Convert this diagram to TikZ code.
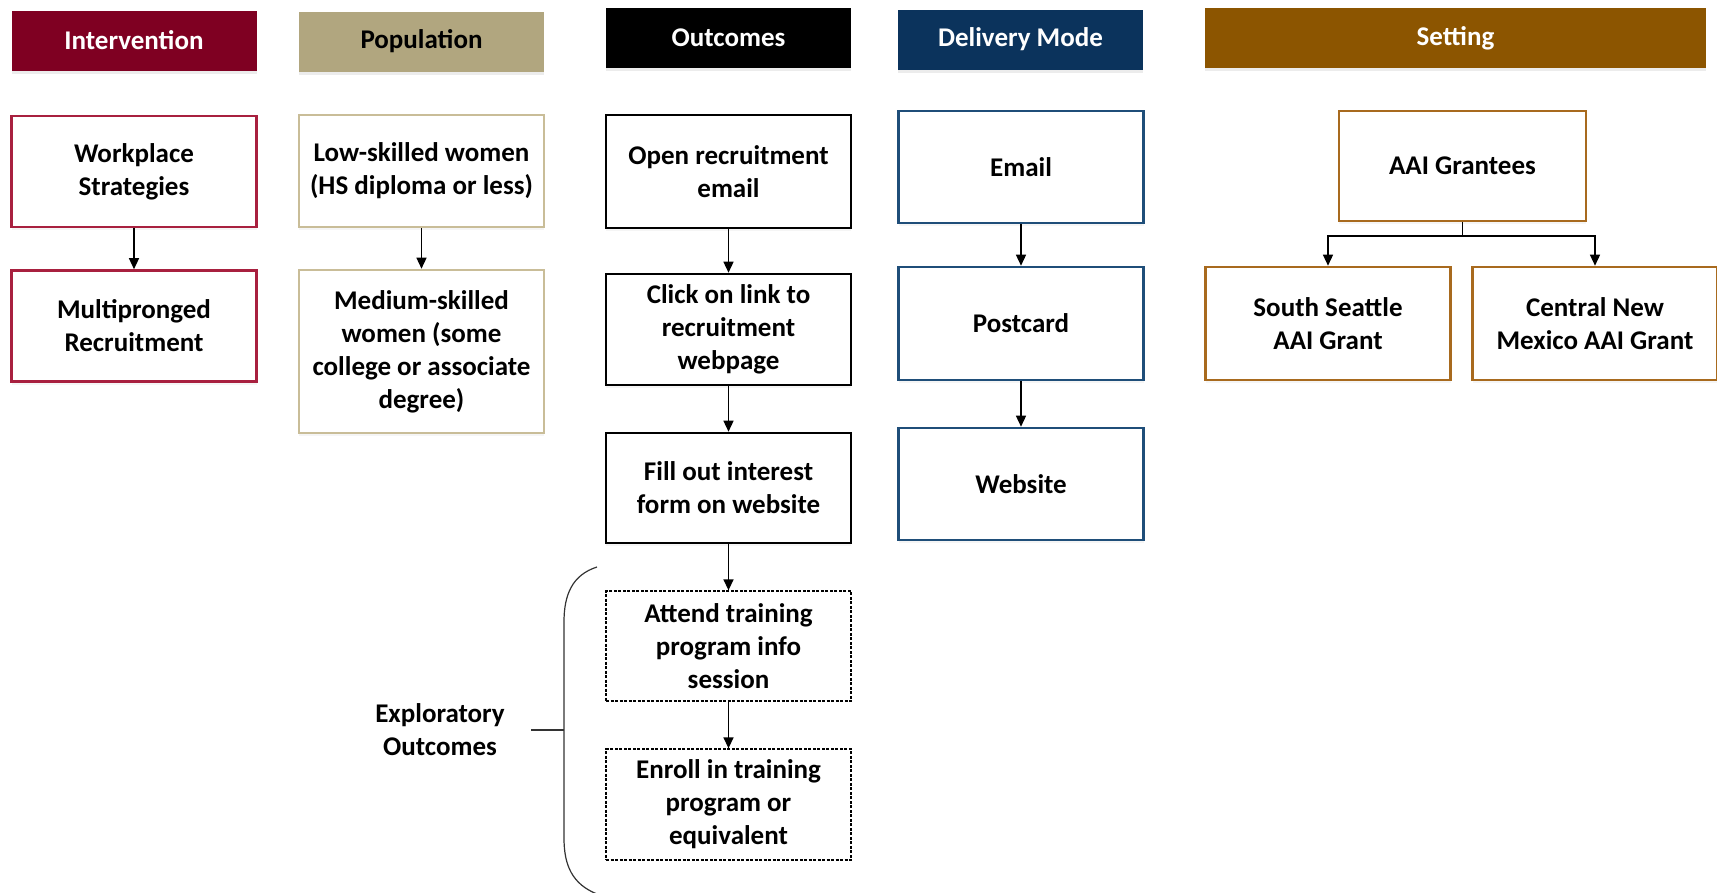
\documentclass[tikz,border=0pt]{standalone}
\usepackage{fontspec}
\setmainfont{Carlito}
\usetikzlibrary{arrows.meta,shadows}
\definecolor{cIntH}{HTML}{7F0022}
\definecolor{cIntB}{HTML}{A8203F}
\definecolor{cPopH}{HTML}{B1A67F}
\definecolor{cPopB}{HTML}{C9BD98}
\definecolor{cDelH}{HTML}{0B335C}
\definecolor{cDelB}{HTML}{1F4E79}
\definecolor{cSetH}{HTML}{8C5500}
\definecolor{cSetB}{HTML}{A86A1E}
\begin{document}
\begin{tikzpicture}[x=1pt,y=-1pt,
  every node/.style={font=\fontsize{27}{33}\selectfont\bfseries, align=center, inner sep=0pt},
  hdr/.style={minimum width=245pt, minimum height=60pt, text=white,
     drop shadow={shadow xshift=0pt, shadow yshift=-3pt, opacity=0.15, fill=gray}},
  box/.style={draw, line width=2.6pt, fill=white, minimum width=245pt, minimum height=111pt,
     drop shadow={shadow xshift=0pt, shadow yshift=-3pt, opacity=0.08, fill=gray}},
  dbox/.style={draw, line width=1.3pt, dash pattern=on 3pt off 1.5pt, fill=white, minimum width=245pt, minimum height=110pt},
  arr/.style={draw, line width=1.4pt, -{Triangle[width=10pt,length=11pt]}},
  ln/.style={draw, line width=1.4pt}
]
\useasboundingbox (0,0) rectangle (1717,892);
% headers
\node[hdr, fill=cIntH] (hInt) at (134,40.5) {Intervention};
\node[hdr, fill=cPopH, text=black] (hPop) at (421.5,41.5) {Population};
\node[hdr, fill=black] (hOut) at (728.5,38) {Outcomes};
\node[hdr, fill=cDelH] (hDel) at (1020.5,39.5) {Delivery Mode};
\node[hdr, fill=cSetH, minimum width=501pt] (hSet) at (1455.5,38) {Setting};
% intervention
\node[box, draw=cIntB] (wp) at (134,171.5) {Workplace\\Strategies};
\node[box, draw=cIntB] (mp) at (134,326) {Multipronged\\Recruitment};
% population
\node[box, draw=cPopB, minimum height=112pt] (low) at (421.5,171) {Low-skilled women\\(HS diploma or less)};
\node[box, draw=cPopB, minimum height=163pt] (med) at (421.5,351.5) {Medium-skilled\\women (some\\college or associate\\degree)};
% outcomes
\node[box, draw=black, minimum height=113pt] (open) at (728.5,171.5) {Open recruitment\\email};
\node[box, draw=black] (click) at (728.5,329.5) {Click on link to\\recruitment\\webpage};
\node[box, draw=black, minimum height=110pt] (fill) at (728.5,488) {Fill out interest\\form on website};
\node[dbox] (attend) at (728.5,646) {Attend training\\program info\\session};
\node[dbox, minimum height=111pt] (enroll) at (728.5,804.5) {Enroll in training\\program or\\equivalent};
% delivery
\node[box, draw=cDelB, minimum height=112pt] (email) at (1021,167) {Email};
\node[box, draw=cDelB, minimum height=113pt] (post) at (1021,323.5) {Postcard};
\node[box, draw=cDelB, minimum height=112pt] (web) at (1021,484) {Website};
% setting
\node[box, draw=cSetB, minimum width=247pt, minimum height=110pt] (aai) at (1462.5,166) {AAI Grantees};
\node[box, draw=cSetB, minimum height=113pt] (ss) at (1328,323.5) {South Seattle\\AAI Grant};
\node[box, draw=cSetB, minimum height=113pt] (cnm) at (1595,323.5) {Central New\\Mexico AAI Grant};
% arrows
\path[arr] (wp) -- (mp);
\path[arr] (low) -- (med);
\path[arr] (open) -- (click);
\path[arr] (click) -- (fill);
\path[arr] (fill) -- (attend);
\path[arr] (attend) -- (enroll);
\path[arr] (email) -- (post);
\path[arr] (post) -- (web);
\coordinate (br) at (1462.5,236);
\path[ln] (aai.south) -- (br);
\path[arr] (br) -| (ss.north);
\path[arr] (br) -| (cnm.north);
% brace
\coordinate (bTop) at (597,567);
\coordinate (bBot) at (597,894);
\coordinate (bMid) at (564,730);
\coordinate (tick) at (531,730);
\draw[line width=1.2pt, draw=black!80] (bTop) .. controls (572,575) and (564,595) .. (564,622) -- (564,838) .. controls (564,865) and (572,884) .. (bBot);
\draw[line width=1.2pt, draw=black!80] (tick) -- (bMid);
\node (expl) at (440,730) {Exploratory\\Outcomes};
\end{tikzpicture}
\end{document}
